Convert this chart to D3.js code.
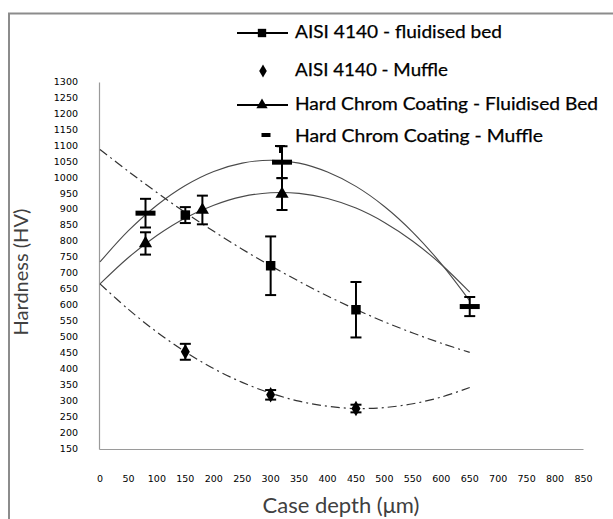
<!DOCTYPE html>
<html><head><meta charset="utf-8">
<script src="https://cdn.jsdelivr.net/npm/d3@7"></script>
<style>body{margin:0;background:#fff}svg{display:block}</style>
</head><body><svg id="c" width="613" height="519"></svg>
<script>
// ---- data ----
const xTicks = [0,50,100,150,200,250,300,350,400,450,500,550,600,650,700,750,800,850];
const yTicks = [150,200,250,300,350,400,450,500,550,600,650,700,750,800,850,900,950,1000,1050,1100,1150,1200,1250,1300];
const seriesNames = ["AISI 4140 - fluidised bed","AISI 4140 - Muffle","Hard Chrom Coating - Fluidised Bed","Hard Chrom Coating - Muffle"];
// AISI 4140 fluidised bed (squares)
const sqX = [150,300,450];
const sqY = [884,725,587];
const sqErr = [25,92,87];
// AISI 4140 muffle (diamonds)
const diX = [150,300,450];
const diY = [455,320,277];
const diErr = [25,15,12];
// Hard chrom fluidised bed (triangles)
const trX = [80,180,320];
const trY = [795,900,950];
const trErr = [35,45,50];
// Hard chrom muffle (dashes)
const daX = [80,320,650];
const daY = [890,1050,597];
const daErr = [45,50,30];
// trend lines
const trendX = [0,50,100,150,200,250,300,350,400,450,500,550,600,650];
const trendHCMuffle = [737,835,915,977,1021,1047,1056,1047,1019,974,911,830,731,615];
const trendHCFluid  = [668,751,820,875,915,942,954,952,936,906,861,802,729,642];
const trendAISIFluid = [1090,1021,955,892,833,777,725,676,630,588,549,514,482,453];
const trendAISIMuffle = [668,588,517,455,402,359,325,300,284,277,280,292,313,343];

const svg = d3.select("#c");
const x = d3.scaleLinear().domain([0,850]).range([100,583.5]);
const y = d3.scaleLinear().domain([150,1300]).range([449,82.5]);

// outer chart border
svg.append("rect").attr("x",9).attr("y",13.5).attr("width",640).attr("height",560)
  .attr("fill","none").attr("stroke","#8c8c8c").attr("stroke-width",2);

// axis lines
svg.append("line").attr("x1",99.5).attr("x2",99.5).attr("y1",y(1300)).attr("y2",449.5)
  .attr("stroke","#9a9a9a").attr("stroke-width",1.2);
svg.append("line").attr("x1",99.5).attr("x2",583.5).attr("y1",449.5).attr("y2",449.5)
  .attr("stroke","#9a9a9a").attr("stroke-width",1.2);

// tick labels
const tickFont = "'DejaVu Sans', Verdana, sans-serif";
svg.append("g").selectAll("text").data(yTicks).join("text")
  .attr("x",78).attr("y",d=>y(d)).attr("text-anchor","end").attr("dominant-baseline","middle")
  .attr("font-family",tickFont).attr("font-size",9.5).attr("fill","#000").text(d=>d);
svg.append("g").selectAll("text").data(xTicks).join("text")
  .attr("x",d=>x(d)).attr("y",479).attr("text-anchor","middle").attr("dominant-baseline","middle")
  .attr("font-family",tickFont).attr("font-size",9.5).attr("fill","#000").text(d=>d);

// axis titles
svg.append("text").attr("transform","translate(28,272) rotate(-90)").attr("text-anchor","middle")
  .attr("font-family","Lato, 'Open Sans', sans-serif").attr("font-size",20).attr("fill","#404040")
  .text("Hardness (HV)");
svg.append("text").attr("x",341).attr("y",513).attr("text-anchor","middle")
  .attr("font-family","Lato, 'Open Sans', sans-serif").attr("font-size",22).attr("fill","#404040")
  .text("Case depth (μm)");

// trend lines
const line = (arr)=>d3.line().x((d,i)=>x(trendX[i])).y(d=>y(d)).curve(d3.curveCatmullRom)(arr);
svg.append("path").attr("d",line(trendHCMuffle)).attr("fill","none").attr("stroke","#4a4a4a").attr("stroke-width",1.1);
svg.append("path").attr("d",line(trendHCFluid)).attr("fill","none").attr("stroke","#4a4a4a").attr("stroke-width",1.1);
svg.append("path").attr("d",line(trendAISIFluid)).attr("fill","none").attr("stroke","#333").attr("stroke-width",1.2).attr("stroke-dasharray","9,4,2,4");
svg.append("path").attr("d",line(trendAISIMuffle)).attr("fill","none").attr("stroke","#333").attr("stroke-width",1.2).attr("stroke-dasharray","9,4,2,4");

// error bars
function errBars(xs,ys,es){
  const g = svg.append("g").attr("stroke","#000").attr("stroke-width",2);
  xs.forEach((xv,i)=>{
    const cx = x(xv), t = y(ys[i]+es[i]), b = y(ys[i]-es[i]);
    g.append("line").attr("x1",cx).attr("x2",cx).attr("y1",t).attr("y2",b);
    g.append("line").attr("x1",cx-5.5).attr("x2",cx+5.5).attr("y1",t).attr("y2",t);
    g.append("line").attr("x1",cx-5.5).attr("x2",cx+5.5).attr("y1",b).attr("y2",b);
  });
}
errBars(sqX,sqY,sqErr); errBars(diX,diY,diErr); errBars(trX,trY,trErr); errBars(daX,daY,daErr);

// markers
const sq = d3.symbol().type(d3.symbolSquare).size(90);
const di = d3.symbol().type(d3.symbolDiamond).size(70);
const tr = d3.symbol().type(d3.symbolTriangle).size(75);
svg.append("g").selectAll("path").data(sqX).join("path").attr("d",sq)
  .attr("transform",(d,i)=>`translate(${x(d)},${y(sqY[i])})`).attr("fill","#000");
svg.append("g").selectAll("path").data(diX).join("path").attr("d",di)
  .attr("transform",(d,i)=>`translate(${x(d)},${y(diY[i])})`).attr("fill","#000");
svg.append("g").selectAll("path").data(trX).join("path").attr("d",tr)
  .attr("transform",(d,i)=>`translate(${x(d)},${y(trY[i])})`).attr("fill","#000");
svg.append("g").selectAll("rect").data(daX).join("rect")
  .attr("x",d=>x(d)-10).attr("y",(d,i)=>y(daY[i])-2.5).attr("width",20).attr("height",5).attr("fill","#000");

// legend
const legY = [33,71,105,137];
const legW = [207,153,303,248];
const lg = svg.append("g");
lg.selectAll("text").data(seriesNames).join("text")
  .attr("x",295).attr("y",(d,i)=>legY[i]).attr("dominant-baseline","middle")
  .attr("font-family","Lato, 'Open Sans', sans-serif").attr("font-size",18).attr("fill","#000")
  .attr("stroke","#000").attr("stroke-width",0.25)
  .attr("textLength",(d,i)=>legW[i]).attr("lengthAdjust","spacingAndGlyphs")
  .text(d=>d);
[0,2].forEach(i=>{
  lg.append("line").attr("x1",237).attr("x2",288).attr("y1",legY[i]).attr("y2",legY[i]).attr("stroke","#000").attr("stroke-width",2);
});
lg.append("path").attr("d",d3.symbol().type(d3.symbolSquare).size(70)).attr("transform",`translate(262,${legY[0]})`).attr("fill","#000");
lg.append("path").attr("d",d3.symbol().type(d3.symbolDiamond).size(50)).attr("transform",`translate(263,${legY[1]})`).attr("fill","#000");
lg.append("path").attr("d",d3.symbol().type(d3.symbolTriangle).size(55)).attr("transform",`translate(262,${legY[2]})`).attr("fill","#000");
lg.append("rect").attr("x",261.5).attr("y",legY[3]-4).attr("width",9).attr("height",4).attr("fill","#000");
lg.append("line").attr("x1",275).attr("x2",285).attr("y1",146).attr("y2",146).attr("stroke","#000").attr("stroke-width",2);
lg.append("line").attr("x1",280).attr("x2",280).attr("y1",146).attr("y2",153).attr("stroke","#000").attr("stroke-width",2);
</script></body></html>
